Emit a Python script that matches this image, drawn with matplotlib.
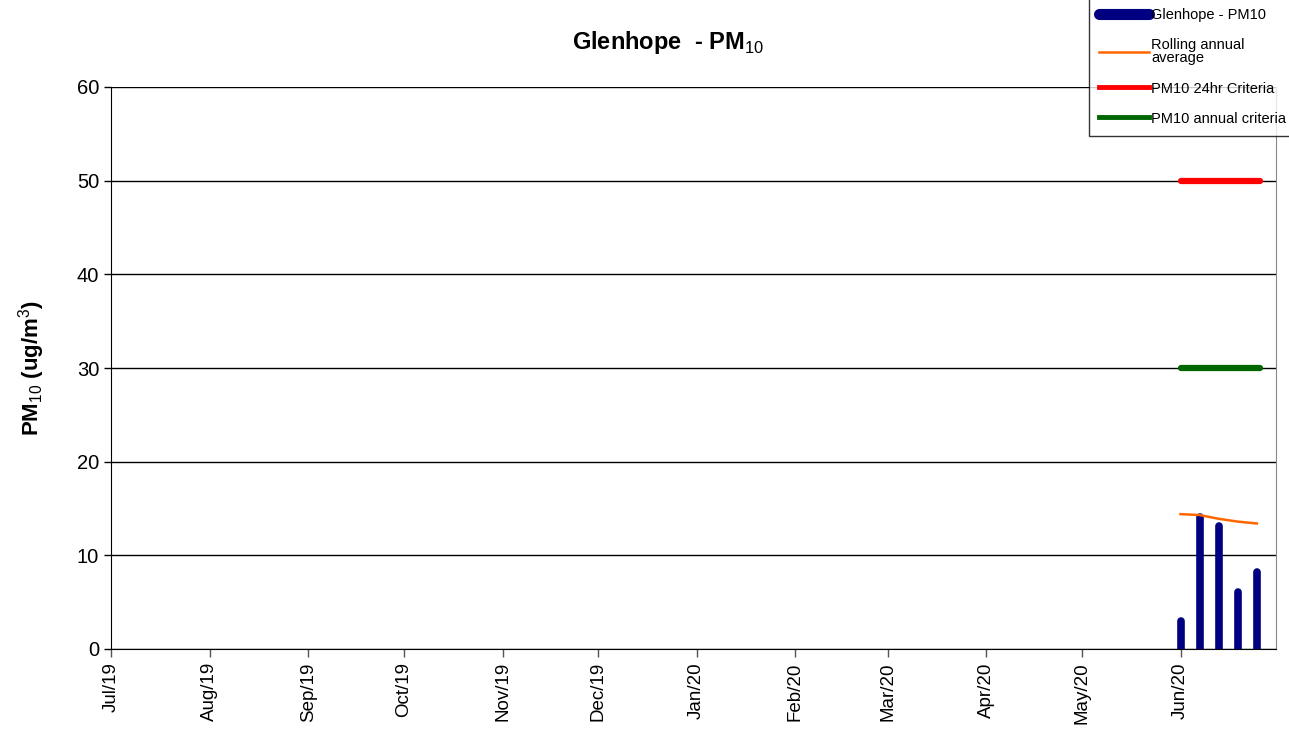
import matplotlib
matplotlib.use("Agg")
import matplotlib.pyplot as plt
import matplotlib.dates as mdates
from matplotlib.lines import Line2D
import numpy as np
import datetime as dt

plt.rcParams['font.family'] = ['Liberation Sans', 'DejaVu Sans']
plt.rcParams['mathtext.fontset'] = 'custom'
plt.rcParams['mathtext.rm'] = 'Liberation Sans'
plt.rcParams['mathtext.bf'] = 'Liberation Sans:bold'

# Data
sample_dates = ["2020-06-01", "2020-06-07", "2020-06-13", "2020-06-19", "2020-06-25"]
pm10_values = [3.0, 14.1, 13.1, 6.1, 8.2]
rolling_avg = [14.4, 14.3, 13.9, 13.6, 13.4]
criteria_24hr = 50
criteria_annual = 30
tick_months = ["2019-07-01", "2019-08-01", "2019-09-01", "2019-10-01", "2019-11-01",
               "2019-12-01", "2020-01-01", "2020-02-01", "2020-03-01", "2020-04-01",
               "2020-05-01", "2020-06-01"]
tick_labels = ["Jul/19", "Aug/19", "Sep/19", "Oct/19", "Nov/19", "Dec/19",
               "Jan/20", "Feb/20", "Mar/20", "Apr/20", "May/20", "Jun/20"]

dates = [dt.datetime.strptime(d, "%Y-%m-%d") for d in sample_dates]
ticks = [dt.datetime.strptime(d, "%Y-%m-%d") for d in tick_months]
xnum = mdates.date2num(dates)

fig = plt.figure(figsize=(12.89, 7.41), dpi=100)
ax = fig.add_axes([111/1289, 1-649/741, (1276-111)/1289, (649-87)/741])

ax.set_ylim(0, 60)
ax.set_xlim(mdates.date2num(dt.datetime(2019, 7, 1)), mdates.date2num(dt.datetime(2020, 7, 1)))
ax.set_yticks(np.arange(0, 61, 10))
ax.yaxis.grid(True, color='black', linewidth=1.0)
ax.set_axisbelow(True)

ax.vlines(xnum, 0, pm10_values, colors='#000080', linewidth=5.5, capstyle='round', zorder=3)
ax.plot(xnum, rolling_avg, color='#FF6600', linewidth=1.8, zorder=4)
ax.plot([xnum[0], xnum[-1] + 1], [criteria_24hr, criteria_24hr], color='#FF0000', linewidth=4.5, solid_capstyle='round', zorder=4)
ax.plot([xnum[0], xnum[-1] + 1], [criteria_annual, criteria_annual], color='#006600', linewidth=4.5, solid_capstyle='round', zorder=4)

ax.set_xticks(mdates.date2num(ticks))
ax.set_xticklabels(tick_labels, rotation=90, fontsize=13.5)
ax.tick_params(axis='y', labelsize=14.5, length=5, width=1)
ax.tick_params(axis='x', length=6, width=1, color='#555555')
ax.spines['top'].set_visible(False)
ax.spines['right'].set_color('#888888')
ax.spines['left'].set_color('black')
ax.spines['bottom'].set_color('black')

ax.set_ylabel("PM$_{10}$ (ug/m$^{3}$)", fontsize=16, fontweight='bold')
ax.yaxis.set_label_coords((47-111)/1165, 0.5)
fig.text(668/1289, 1-42/741, "Glenhope  - PM$_{10}$", ha='center', va='center', fontsize=17, fontweight='bold')

handles = [
    Line2D([], [], color='#000080', linewidth=8, solid_capstyle='round'),
    Line2D([], [], color='#FF6600', linewidth=1.8),
    Line2D([], [], color='#FF0000', linewidth=3.5),
    Line2D([], [], color='#006600', linewidth=3.5),
]
labels = ["Glenhope - PM10", "Rolling annual\naverage", "PM10 24hr Criteria", "PM10 annual criteria"]
leg = fig.legend(handles, labels, loc='upper left', bbox_to_anchor=(1089/1289, 1.003), frameon=True,
                 fancybox=False, edgecolor='black', fontsize=10.5, handlelength=3.4,
                 handletextpad=0.15, labelspacing=1.1, borderpad=0.7, borderaxespad=0)
leg.get_frame().set_linewidth(1.0)
for t in leg.get_texts():
    t.set_linespacing(0.95)

fig.savefig("out.png", dpi=100)
